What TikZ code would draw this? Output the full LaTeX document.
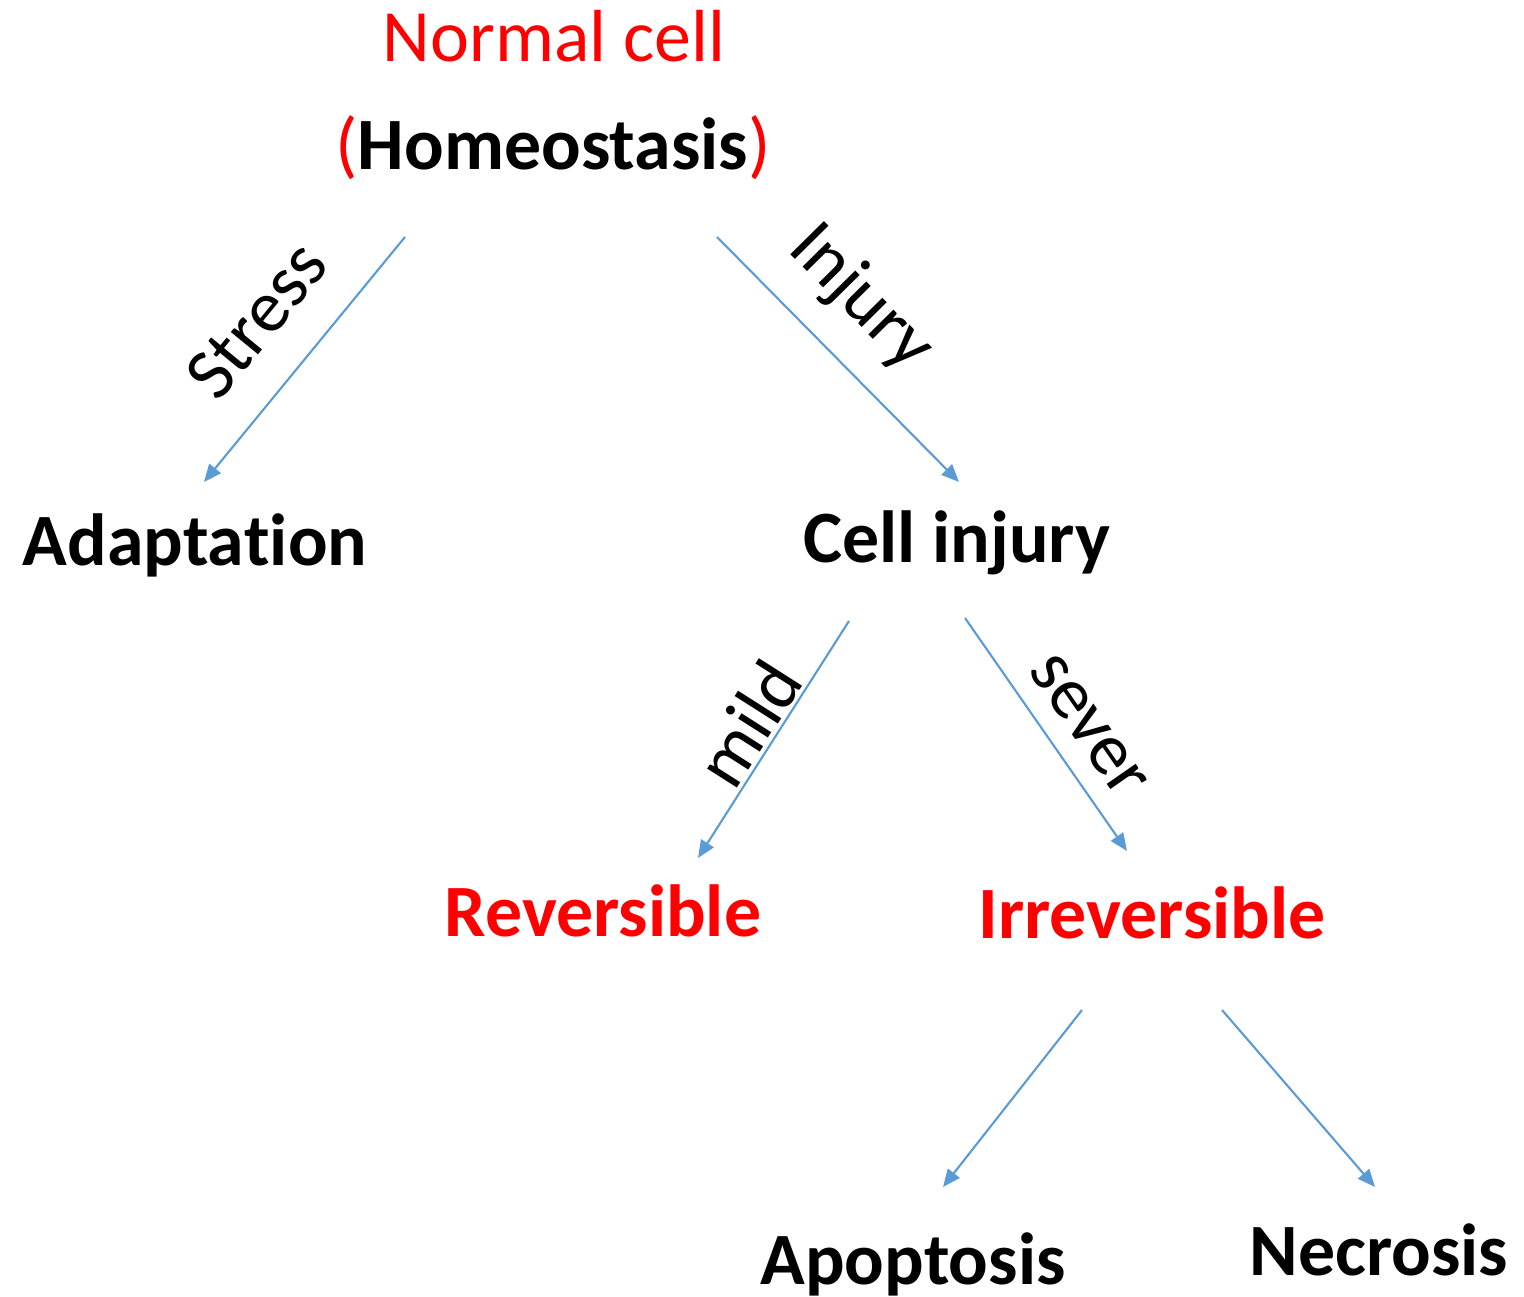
\documentclass[tikz,border=0pt]{standalone}
\usepackage{fontspec}
\setmainfont{Carlito}[RawFeature={-liga;-clig;-calt;-dlig}]
\usetikzlibrary{arrows.meta}
\definecolor{arrowblue}{HTML}{5B9BD5}
\begin{document}
\begin{tikzpicture}[>={Triangle[length=5pt,width=4.2pt]},
    every node/.style={font=\fontsize{21}{25}\selectfont, anchor=base},
    state/.style={font=\fontsize{21}{25}\selectfont\bfseries},
    edge/.style={->, arrowblue, line width=0.6pt},
    lbl/.style={sloped, above, text=black, inner xsep=0pt}]
        \useasboundingbox (0,0) rectangle (15.24,-12.97);

        \node[red] (N) at (5.54,-0.62) {Normal cell};
        \node[state] (H) at (5.53,-1.70) {\textcolor{red}{\mdseries(}Homeostasis\textcolor{red}{\mdseries)}};
        \node[state] (A) at (1.95,-5.66) {Adapta\kern0pt tion};
        \node[state] (C) at (9.57,-5.63) {Cell injury};
        \node[state, red] (R) at (6.03,-9.37) {Reversible};
        \node[state, red] (I) at (11.52,-9.38) {Irreversible};
        \node[state] (Ap) at (9.13,-12.84) {Apoptosis};
        \node[state] (Ne) at (13.79,-12.75) {Necrosis};

        \draw[edge] ([shift={(-1.48,-0.67)}]H.base) -- ([shift={(0.09,0.84)}]A.base)
            node[lbl, midway, inner ysep=0.37cm] {Stress};
        \draw[edge] ([shift={(1.64,-0.67)}]H.base) -- ([shift={(0.02,0.81)}]C.base)
            node[lbl, pos=0.42, inner ysep=0.26cm] {Injury};
        \draw[edge] ([shift={(-1.08,-0.58)}]C.base) -- ([shift={(0.95,0.79)}]R.base)
            node[lbl, midway, inner ysep=0.03cm] {mild};
        \draw[edge] ([shift={(0.08,-0.55)}]C.base) -- ([shift={(-0.25,0.87)}]I.base)
            node[lbl, pos=0.56, inner ysep=0.2cm] {sever};

        \draw[edge] ([shift={(-0.70,-0.72)}]I.base) -- ([shift={(0.30,0.97)}]Ap.base);
        \draw[edge] ([shift={(0.70,-0.72)}]I.base) -- ([shift={(-0.04,0.88)}]Ne.base);
      \end{tikzpicture}
\end{document}
